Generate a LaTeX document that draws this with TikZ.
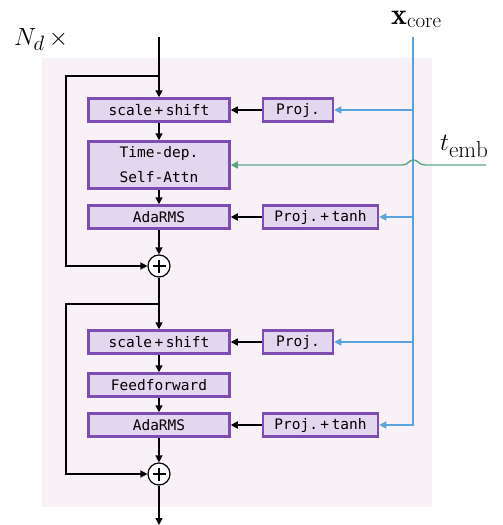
\documentclass[tikz,border=0pt]{standalone}
\usepackage{fontspec}
\setmonofont{DejaVu Sans Mono}
\usetikzlibrary{arrows.meta}
\definecolor{bgpink}{HTML}{F9F1F8}
\definecolor{boxfill}{HTML}{E3D7EF}
\definecolor{boxdraw}{HTML}{7D4DB3}
\definecolor{condblue}{HTML}{5BA3E0}
\definecolor{condgreen}{HTML}{5AA684}
\tikzset{
  blk/.style={draw=boxdraw, fill=boxfill, line width=2.5pt, inner sep=0pt,
    minimum height=23pt, align=center,
    font=\ttfamily\fontsize{14.5}{25}\selectfont},
  wideblk/.style={blk, minimum width=141pt},
  projblk/.style={blk, minimum width=70pt},
  tanhblk/.style={blk, minimum width=115pt},
  addnode/.style={draw, circle, line width=1.2pt, fill=white, minimum size=22pt, inner sep=0pt},
  flow/.style={line width=1.4pt, -{Triangle[length=7pt,width=7pt]}},
  blueflow/.style={condblue, line width=1.4pt, -{Triangle[length=7pt,width=7pt]}},
  greenflow/.style={condgreen, line width=1.4pt, -{Triangle[length=7pt,width=7pt]}},
  lbl/.style={font=\fontsize{30}{36}\selectfont, inner sep=0pt, anchor=base west}
}
\newcommand{\plusmark}[1]{%
  \draw[line width=1.8pt] ([xshift=-6.5pt]#1.center) -- ([xshift=6.5pt]#1.center);
  \draw[line width=1.8pt] ([yshift=-6.5pt]#1.center) -- ([yshift=6.5pt]#1.center);}
\begin{document}
\begin{tikzpicture}[x=1pt,y=-1pt]
\useasboundingbox (0,0) rectangle (503,525);
\fill[bgpink] (42,58) rectangle (432,507);

% labels
\node[lbl] (nd) at (14,45) {$N_d\,{\times}$};
\node[lbl] (xc) at (391,24) {$\mathbf{x}_{\mathrm{core}}$};
\node[lbl, font=\fontsize{33}{38}\selectfont] (te) at (440,150) {$t_{\mathrm{emb}}$};

% first block: attention
\node[wideblk] (ss1) at (159,110) {scale\,+\,shift};
\node[projblk] (pj1) at (298,110) {Proj.};
\node[wideblk, minimum height=47pt] (att) at (159,165) {Time-dep.\\Self-Attn};
\node[wideblk] (rms1) at (159,217) {AdaRMS};
\node[tanhblk] (pt1) at (320.5,217) {Proj.\,+\,tanh};
\node[addnode] (add1) at (159,266) {};
\plusmark{add1}

% second block: feedforward
\node[wideblk] (ss2) at (159,342) {scale\,+\,shift};
\node[projblk] (pj2) at (298,342) {Proj.};
\node[wideblk] (ff) at (159,385) {Feedforward};
\node[wideblk] (rms2) at (159,425) {AdaRMS};
\node[tanhblk] (pt2) at (320.5,425) {Proj.\,+\,tanh};
\node[addnode] (add2) at (159,474) {};
\plusmark{add2}

% main path
\coordinate (in) at (159,37);
\coordinate (br1) at (159,76);
\coordinate (sk1a) at (66,76);
\coordinate (sk1b) at (66,266);
\coordinate (br2) at (159,304);
\coordinate (sk2a) at (66,304);
\coordinate (sk2b) at (66,474);
\coordinate (out) at (159,525);

\draw[flow] (in) -- (ss1);
\draw[flow] (br1) -- (sk1a) -- (sk1b) -- (add1.west);
\draw[flow] (ss1) -- (att);
\draw[flow] (att) -- (rms1);
\draw[flow] (rms1) -- (add1);
\draw[flow] (pj1) -- (ss1);
\draw[flow] (pt1) -- (rms1);

\draw[flow] (add1) -- (ss2);
\draw[flow] (br2) -- (sk2a) -- (sk2b) -- (add2.west);
\draw[flow] (ss2) -- (ff);
\draw[flow] (ff) -- (rms2);
\draw[flow] (rms2) -- (add2);
\draw[flow] (pj2) -- (ss2);
\draw[flow] (pt2) -- (rms2);
\draw[flow] (add2) -- (out);

% core conditioning
\coordinate (xtop) at (413,37);
\draw[blueflow] (xtop) |- (pt2.east);
\draw[blueflow] (pj1.east -| xtop) -- (pj1.east);
\draw[blueflow] (pt1.east -| xtop) -- (pt1.east);
\draw[blueflow] (pj2.east -| xtop) -- (pj2.east);

% time embedding, hopping over the core line
\coordinate (tin) at (486,165);
\coordinate (hopR) at (425,165);
\coordinate (hopL) at (402,165);
\draw[greenflow] (tin) -- (hopR)
  .. controls (419,165) and (418,160) .. (413.5,160)
  .. controls (409,160) and (408,165) .. (hopL) -- (att.east);
\end{tikzpicture}
\end{document}
